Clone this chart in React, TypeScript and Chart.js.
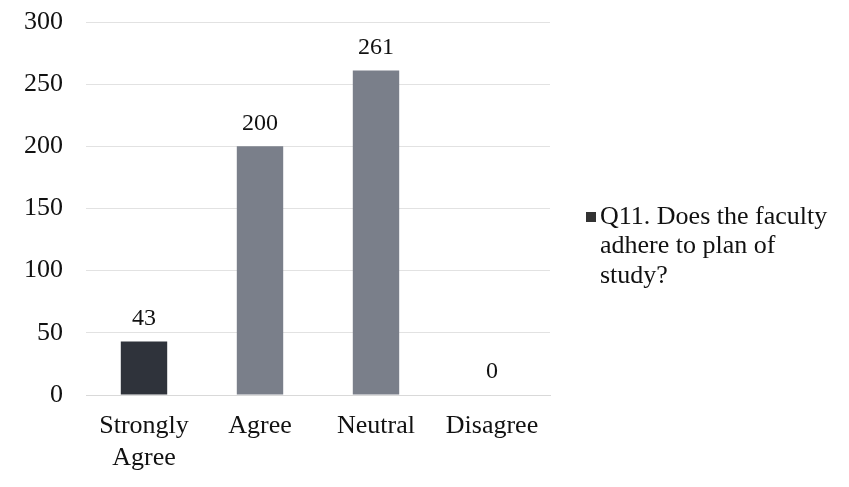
import React, { useEffect, useRef } from "react";
import { Chart, registerables } from "chart.js";

Chart.register(...registerables);

const categories: (string | string[])[] = [["Strongly", "Agree"], "Agree", "Neutral", "Disagree"];
const values: number[] = [43, 200, 261, 0];
const barColors: string[] = ["#2f333b", "#7a7f8a", "#7a7f8a", "#7a7f8a"];
const seriesName = "Q11. Does the faculty adhere to plan of study?";
const legendLines: string[] = ["Q11. Does the faculty", "adhere to plan of", "study?"];
const yTicks: number[] = [0, 50, 100, 150, 200, 250, 300];

const FONT = "'Liberation Serif', 'Times New Roman', serif";

const labelPlugin = {
  id: "valueLabels",
  afterDatasetsDraw(chart: any) {
    const ctx = chart.ctx;
    const meta = chart.getDatasetMeta(0);
    ctx.save();
    ctx.font = `24px ${FONT}`;
    ctx.fillStyle = "#111";
    ctx.textAlign = "center";
    ctx.textBaseline = "middle";
    meta.data.forEach((bar: any, i: number) => {
      ctx.fillText(String(values[i]), bar.x, bar.y - 23);
    });
    ctx.restore();
  },
};

const legendPlugin = {
  id: "sideLegend",
  afterDraw(chart: any) {
    const ctx = chart.ctx;
    const area = chart.chartArea;
    const x = area.right + 36;
    const y0 = 217;
    ctx.save();
    ctx.fillStyle = "#333";
    ctx.fillRect(x, y0 - 5, 10, 10);
    ctx.font = `26px ${FONT}`;
    ctx.fillStyle = "#111";
    ctx.textAlign = "left";
    ctx.textBaseline = "middle";
    legendLines.forEach((line, i) => {
      ctx.fillText(line, x + 14, y0 + i * 29.5);
    });
    ctx.restore();
  },
};

export default function App() {
  const ref = useRef<HTMLCanvasElement>(null);
  useEffect(() => {
    document.body.style.margin = "0";
    const chart = new Chart(ref.current!, {
      type: "bar",
      data: {
        labels: categories,
        datasets: [
          {
            label: seriesName,
            data: values,
            backgroundColor: barColors,
            barPercentage: 0.8,
            categoryPercentage: 0.5,
          },
        ],
      },
      options: {
        animation: false,
        responsive: false,
        layout: { padding: { top: 22, right: 299, bottom: 0, left: 0 } },
        plugins: { legend: { display: false }, tooltip: { enabled: false } },
        scales: {
          x: {
            afterFit: (s: any) => {
              s.height = 92;
              s.paddingLeft = 0;
              s.paddingRight = 0;
            },
            grid: { display: false, drawTicks: false },
            border: { color: "#d9d9d9", width: 1 },
            ticks: { font: { family: FONT, size: 26 }, color: "#111", padding: 16, maxRotation: 0 },
          },
          y: {
            min: 0,
            max: 300,
            afterBuildTicks: (s: any) => {
              s.ticks = yTicks.map((v) => ({ value: v }));
            },
            afterFit: (s: any) => {
              s.width = 86;
              s.paddingTop = 0;
              s.paddingBottom = 0;
            },
            grid: { color: "#e2e2e2", drawTicks: false },
            border: { display: false },
            ticks: { font: { family: FONT, size: 26 }, color: "#111", padding: 23 },
          },
        },
      },
      plugins: [labelPlugin, legendPlugin],
    });
    return () => chart.destroy();
  }, []);
  return (
    <div style={{ width: 849, height: 487, background: "#fff" }}>
      <canvas ref={ref} width={849} height={487} />
    </div>
  );
}
